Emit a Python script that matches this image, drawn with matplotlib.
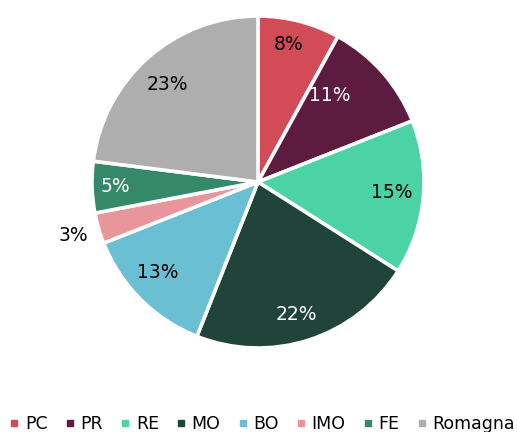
import matplotlib
matplotlib.use("Agg")
import matplotlib.pyplot as plt
from matplotlib.lines import Line2D
import numpy as np

categories = ["PC", "PR", "RE", "MO", "BO", "IMO", "FE", "Romagna"]
values = [8, 11, 15, 22, 13, 3, 5, 23]
colors = ["#D24B57", "#5E1B40", "#4BD3A6", "#21443A", "#6BBFD2", "#E8959B", "#35886A", "#AEAEAE"]
label_colors = ["black", "white", "black", "white", "black", "black", "white", "black"]
label_dist = [0.85, 0.68, 0.81, 0.83, 0.815, 1.16, 0.86, 0.805]
label_shift = [-2, -9, -1, 2, 3, 0, 0, -1.5]  # degrees

plt.rcParams['font.family'] = ['DejaVu Sans']
fig = plt.figure(figsize=(5.17, 4.32), dpi=100)
cx, cy, r = 258, 182, 166
W, H = 517, 432
ax = fig.add_axes([(cx - r) / W, (H - cy - r) / H, 2 * r / W, 2 * r / H])

wedges, _ = ax.pie(values, colors=colors, startangle=90, counterclock=False,
                   radius=1, wedgeprops=dict(edgecolor="white", linewidth=2.6))
total = sum(values)
cum = 0
for v, c, d, s in zip(values, label_colors, label_dist, label_shift):
    mid = (cum + v / 2) / total * 2 * np.pi + np.radians(s)
    cum += v
    x = d * np.sin(mid)
    y = d * np.cos(mid)
    ax.text(x, y, f"{v}%", ha="center", va="center", color=c, fontsize=13.5)
ax.set_xlim(-1, 1)
ax.set_ylim(-1, 1)
ax.set_aspect("equal")
ax.axis("off")

handles = [Line2D([0], [0], marker="s", linestyle="none", markerfacecolor=col,
                  markeredgecolor=col, markersize=5) for col in colors]
leg = fig.legend(handles, categories, loc="center", bbox_to_anchor=(0.5 + 4 / W, 1 - 424 / H),
                 ncol=8, frameon=False, fontsize=12.5, handlelength=0.5, handletextpad=0.35,
                 columnspacing=1.04, borderpad=0)
fig.savefig("out.png", dpi=100)
